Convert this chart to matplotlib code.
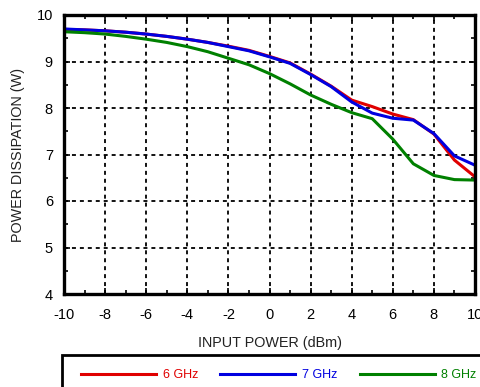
import numpy as np
import matplotlib.pyplot as plt
from matplotlib.ticker import MultipleLocator
from matplotlib.patches import Rectangle

plt.rcParams['font.family'] = ['Liberation Sans', 'DejaVu Sans']
plt.rcParams['axes.unicode_minus'] = False

pin = [-10, -9, -8, -7, -6, -5, -4, -3, -2, -1, 0, 1, 2, 3, 4, 5, 6, 7, 8, 9, 10]
p_6ghz = [9.69, 9.68, 9.66, 9.63, 9.59, 9.54, 9.48, 9.41, 9.33, 9.24, 9.11, 8.97,
          8.73, 8.47, 8.17, 8.03, 7.87, 7.75, 7.44, 6.88, 6.52]
p_7ghz = [9.70, 9.68, 9.66, 9.63, 9.59, 9.54, 9.48, 9.41, 9.32, 9.23, 9.10, 8.96,
          8.72, 8.46, 8.13, 7.89, 7.78, 7.74, 7.45, 6.97, 6.77]
p_8ghz = [9.64, 9.62, 9.59, 9.54, 9.48, 9.41, 9.32, 9.21, 9.07, 8.93, 8.74, 8.52,
          8.28, 8.08, 7.90, 7.77, 7.33, 6.80, 6.55, 6.46, 6.45]

fig = plt.figure(figsize=(4.8, 3.87), dpi=100)
ax = fig.add_axes([64/480, 1-294/387, 411/480, 279/387])

l1, = ax.plot(pin, p_6ghz, color='#e00000', lw=2.2, label='6 GHz')
l2, = ax.plot(pin, p_7ghz, color='#0000e0', lw=2.2, label='7 GHz')
l3, = ax.plot(pin, p_8ghz, color='#008000', lw=2.2, label='8 GHz')

ax.set_xlim(-10, 10)
ax.set_ylim(4, 10)
ax.xaxis.set_major_locator(MultipleLocator(2))
ax.xaxis.set_minor_locator(MultipleLocator(1))
ax.yaxis.set_major_locator(MultipleLocator(1))
ax.yaxis.set_minor_locator(MultipleLocator(0.5))
ax.grid(True, which='major', color='black', linestyle=(0, (2.2, 2.2)), lw=1.3)
ax.tick_params(which='both', direction='in', top=True, right=True, width=1.2,
               labelsize=10.5, colors='black')
ax.tick_params(which='major', length=4)
ax.tick_params(axis='x', which='major', pad=10)
ax.tick_params(axis='y', which='major', pad=8)
ax.tick_params(which='minor', length=3)
for s in ax.spines.values():
    s.set_linewidth(2.4)

ax.set_xlabel('INPUT POWER (dBm)', fontsize=10.4, labelpad=10, color='#222222')
ax.set_ylabel('POWER DISSIPATION (W)', fontsize=10.4, labelpad=8, color='#222222')

leg = fig.legend(handles=[l1, l2, l3], loc='center left', ncol=3,
                 bbox_to_anchor=(70/480, 1-375/387), frameon=False,
                 handlelength=6.0, handletextpad=0.55, columnspacing=1.75,
                 fontsize=9, labelcolor='linecolor')
fig.patches.append(Rectangle((62/480, -0.05), 0.9, 1-355/387+0.05,
                             transform=fig.transFigure, fill=False,
                             edgecolor='black', lw=2))

fig.savefig('out.png', dpi=100)
